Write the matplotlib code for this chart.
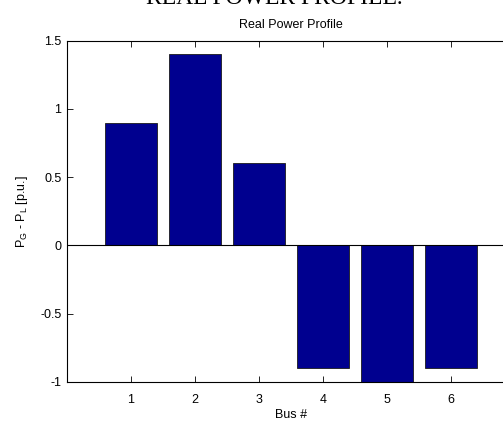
import matplotlib
matplotlib.use("Agg")
import matplotlib.pyplot as plt

buses = [1, 2, 3, 4, 5, 6]
net_power = [0.9, 1.4, 0.6, -0.9, -1.0, -0.9]
y_ticks = [-1, -0.5, 0, 0.5, 1, 1.5]
y_tick_labels = ["-1", "-0.5", "0", "0.5", "1", "1.5"]

plt.rcParams["font.family"] = ["Liberation Sans", "DejaVu Sans"]
plt.rcParams["mathtext.default"] = "regular"

fig = plt.figure(figsize=(5.03, 4.25), dpi=100)
# axes runs a bit past the right edge, as in the cropped original
ax = fig.add_axes([67 / 503, (425 - 381.7) / 425, 448 / 503, 341 / 425])

ax.bar(buses, net_power, width=0.8, color="#00008F", edgecolor="#1a1a1a", linewidth=0.6, zorder=2)
ax.axhline(0, color="black", linewidth=0.8, zorder=3)

ax.set_xlim(0, 7)
ax.set_ylim(-1, 1.5)
ax.set_xticks(buses)
ax.set_xticklabels([str(b) for b in buses])
ax.set_yticks(y_ticks)
ax.set_yticklabels(y_tick_labels)
ax.tick_params(direction="in", top=True, right=True, labelsize=9, length=4, width=0.6)
ax.tick_params(axis="x", pad=9)
ax.tick_params(axis="y", pad=4)
for spine in ax.spines.values():
    spine.set_linewidth(0.8)

ax.set_title("Real Power Profile", fontsize=9, pad=9)
ax.set_xlabel("Bus #", fontsize=9, labelpad=2)
ax.set_ylabel(r"P$_G$ - P$_L$ [p.u.]", fontsize=9, labelpad=7)

fig.text(0.545, 1 - 4 / 425, "REAL POWER PROFILE.", family="Liberation Serif",
         fontsize=17, ha="center", va="baseline")

fig.savefig("out.png", dpi=100)
plt.close(fig)
